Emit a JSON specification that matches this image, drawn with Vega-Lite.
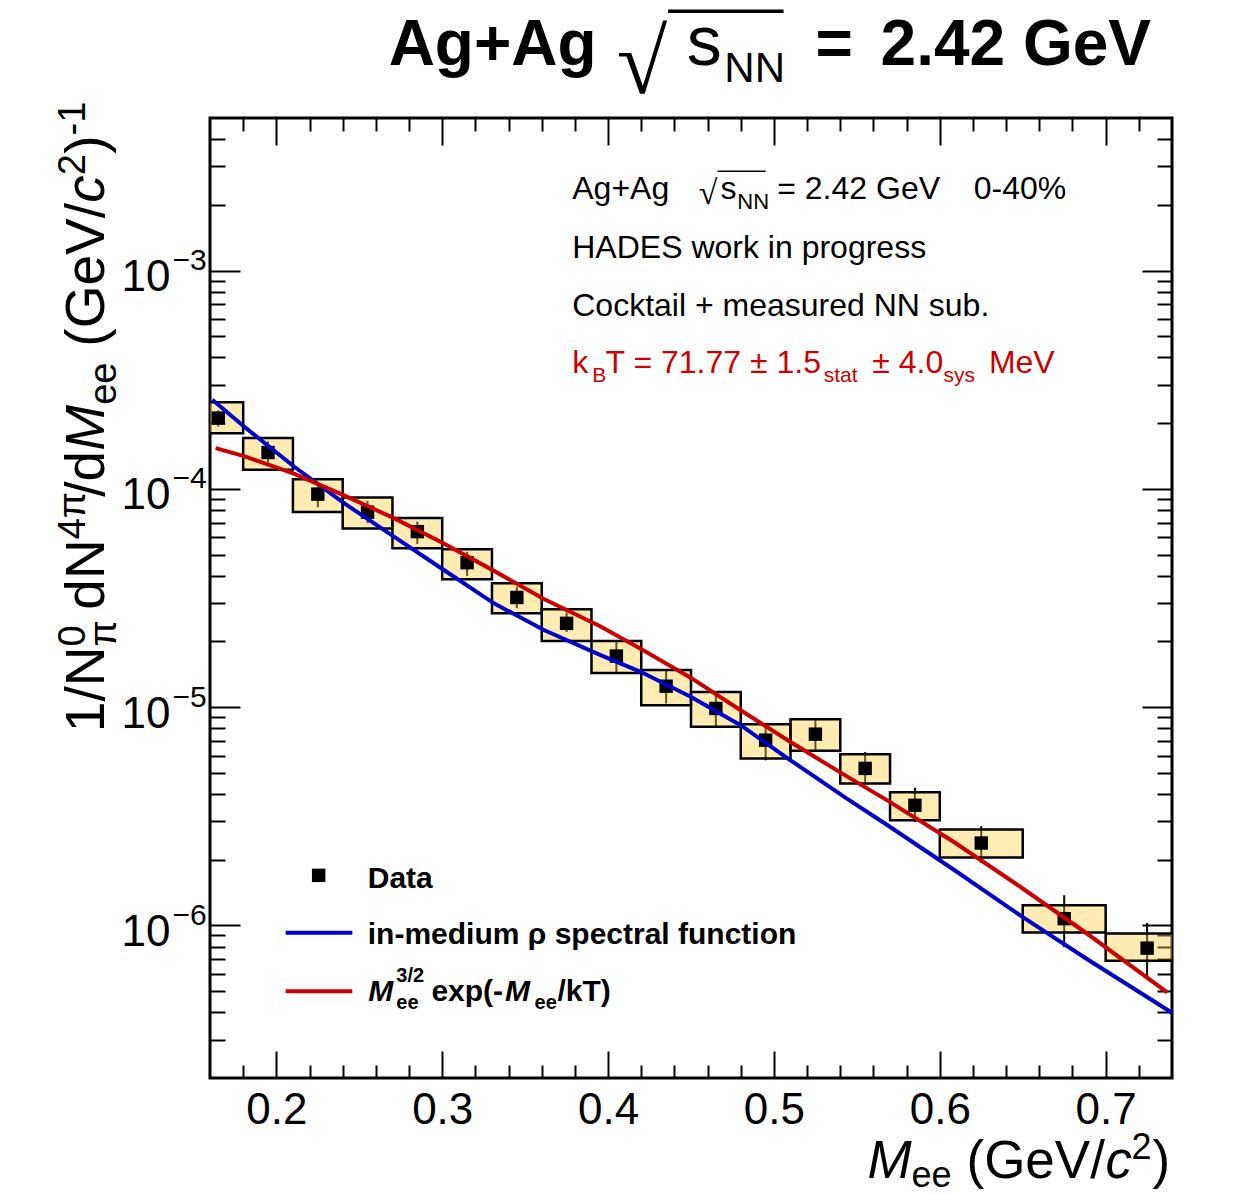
{
 "$schema": "https://vega.github.io/schema/vega-lite/v6.json",
 "width": 962, "height": 960,
 "autosize": {"type": "none"},
 "padding": {"left": 210, "top": 118, "right": 69, "bottom": 116},
 "background": "white",
 "config": {
  "view": {"stroke": "black", "strokeWidth": 3},
  "axis": {"grid": false, "domain": false, "tickColor": "black", "tickWidth": 2, "labelColor": "black", "labelFont": "Liberation Sans", "labelFlush": false, "labelOverlap": false}
 },
 "resolve": {"axis": {"x": "independent", "y": "independent"}},
 "datasets": {
  "pts": [
   {"x":0.165,"y":2.11e-4,"xlo":0.15,"xhi":0.18,"slo":1.80e-4,"shi":2.49e-4,"elo":1.93e-4,"ehi":2.29e-4},
   {"x":0.195,"y":1.467e-4,"xlo":0.18,"xhi":0.21,"slo":1.222e-4,"shi":1.708e-4,"elo":1.32e-4,"ehi":1.65e-4},
   {"x":0.225,"y":9.46e-5,"xlo":0.21,"xhi":0.24,"slo":7.84e-5,"shi":1.107e-4,"elo":8.24e-5,"ehi":1.026e-4},
   {"x":0.255,"y":7.82e-5,"xlo":0.24,"xhi":0.27,"slo":6.58e-5,"shi":9.12e-5,"elo":6.97e-5,"ehi":8.81e-5},
   {"x":0.285,"y":6.37e-5,"xlo":0.27,"xhi":0.30,"slo":5.35e-5,"shi":7.36e-5,"elo":5.6e-5,"ehi":7.08e-5},
   {"x":0.315,"y":4.59e-5,"xlo":0.30,"xhi":0.33,"slo":3.85e-5,"shi":5.29e-5,"elo":3.99e-5,"ehi":5.15e-5},
   {"x":0.345,"y":3.18e-5,"xlo":0.33,"xhi":0.36,"slo":2.69e-5,"shi":3.69e-5,"elo":2.84e-5,"ehi":3.56e-5},
   {"x":0.375,"y":2.42e-5,"xlo":0.36,"xhi":0.39,"slo":2.01e-5,"shi":2.81e-5,"elo":2.21e-5,"ehi":2.71e-5},
   {"x":0.405,"y":1.714e-5,"xlo":0.39,"xhi":0.42,"slo":1.435e-5,"shi":2.01e-5,"elo":1.44e-5,"ehi":2.0e-5},
   {"x":0.435,"y":1.247e-5,"xlo":0.42,"xhi":0.45,"slo":1.021e-5,"shi":1.479e-5,"elo":1.04e-5,"ehi":1.48e-5},
   {"x":0.465,"y":9.86e-6,"xlo":0.45,"xhi":0.48,"slo":8.13e-6,"shi":1.172e-5,"elo":8.2e-6,"ehi":1.17e-5},
   {"x":0.495,"y":7.06e-6,"xlo":0.48,"xhi":0.51,"slo":5.82e-6,"shi":8.35e-6,"elo":5.71e-6,"ehi":8.26e-6},
   {"x":0.525,"y":7.52e-6,"xlo":0.51,"xhi":0.54,"slo":6.31e-6,"shi":8.79e-6,"elo":6.3e-6,"ehi":8.7e-6},
   {"x":0.555,"y":5.24e-6,"xlo":0.54,"xhi":0.57,"slo":4.47e-6,"shi":6.09e-6,"elo":4.39e-6,"ehi":6.23e-6},
   {"x":0.585,"y":3.55e-6,"xlo":0.57,"xhi":0.60,"slo":3.03e-6,"shi":4.07e-6,"elo":2.98e-6,"ehi":4.28e-6},
   {"x":0.625,"y":2.385e-6,"xlo":0.60,"xhi":0.65,"slo":2.05e-6,"shi":2.75e-6,"elo":1.93e-6,"ehi":2.85e-6},
   {"x":0.675,"y":1.074e-6,"xlo":0.65,"xhi":0.70,"slo":9.27e-7,"shi":1.236e-6,"elo":7.96e-7,"ehi":1.375e-6},
   {"x":0.725,"y":7.87e-7,"xlo":0.70,"xhi":0.75,"slo":6.89e-7,"shi":9.19e-7,"elo":5.8e-7,"ehi":1.026e-6}
  ],
  "curves": [
   {"s":"rho","x":0.1614,"y":2.56e-4},
   {"s":"rho","x":0.1805,"y":1.93e-4},
   {"s":"rho","x":0.2106,"y":1.266e-4},
   {"s":"rho","x":0.2408,"y":8.60e-5},
   {"s":"rho","x":0.2709,"y":6.04e-5},
   {"s":"rho","x":0.3010,"y":4.25e-5},
   {"s":"rho","x":0.3312,"y":2.99e-5},
   {"s":"rho","x":0.3613,"y":2.255e-5},
   {"s":"rho","x":0.3955,"y":1.732e-5},
   {"s":"rho","x":0.4196,"y":1.452e-5},
   {"s":"rho","x":0.4498,"y":1.115e-5},
   {"s":"rho","x":0.4799,"y":8.27e-6},
   {"s":"rho","x":0.5100,"y":5.71e-6},
   {"s":"rho","x":0.5442,"y":3.80e-6},
   {"s":"rho","x":0.5683,"y":2.884e-6},
   {"s":"rho","x":0.6085,"y":1.799e-6},
   {"s":"rho","x":0.6487,"y":1.109e-6},
   {"s":"rho","x":0.6889,"y":7.0e-7},
   {"s":"rho","x":0.74,"y":3.98e-7},
   {"s":"th","x":0.1634,"y":1.537e-4},
   {"s":"th","x":0.1805,"y":1.413e-4},
   {"s":"th","x":0.2106,"y":1.175e-4},
   {"s":"th","x":0.2408,"y":9.33e-5},
   {"s":"th","x":0.2709,"y":7.34e-5},
   {"s":"th","x":0.3010,"y":5.62e-5},
   {"s":"th","x":0.3312,"y":4.21e-5},
   {"s":"th","x":0.3613,"y":3.13e-5},
   {"s":"th","x":0.3955,"y":2.34e-5},
   {"s":"th","x":0.4196,"y":1.85e-5},
   {"s":"th","x":0.4498,"y":1.365e-5},
   {"s":"th","x":0.4799,"y":9.68e-6},
   {"s":"th","x":0.5100,"y":6.92e-6},
   {"s":"th","x":0.5402,"y":5.01e-6},
   {"s":"th","x":0.5683,"y":3.74e-6},
   {"s":"th","x":0.6085,"y":2.41e-6},
   {"s":"th","x":0.6487,"y":1.50e-6},
   {"s":"th","x":0.6889,"y":9.16e-7},
   {"s":"th","x":0.7371,"y":4.94e-7},
   {"s":"rho_leg","x":0.2056,"y":9.258e-7},
   {"s":"rho_leg","x":0.2458,"y":9.258e-7},
   {"s":"th_leg","x":0.2056,"y":4.995e-7},
   {"s":"th_leg","x":0.2458,"y":4.995e-7}
  ]
 },
 "layer": [
  {
   "data": {"name": "pts"},
   "mark": {"type": "rule", "color": "black", "strokeWidth": 2},
   "encoding": {
    "x": {"field": "x", "type": "quantitative", "scale": {"type": "linear", "domain": [0.16, 0.74], "zero": false, "nice": false},
          "axis": {"orient": "bottom", "title": null, "ticks": false, "labels": true, "values": [0.2, 0.3, 0.4, 0.5, 0.6, 0.7], "format": ".1f", "labelFontSize": 44, "labelPadding": 10}},
    "y": {"field": "elo", "type": "quantitative", "scale": {"type": "log", "domain": [2e-7, 0.005], "nice": false},
          "axis": {"orient": "left", "title": null, "ticks": false, "values": [1e-6, 1e-5, 1e-4, 1e-3], "labelExpr": "'10'", "labelFontSize": 44, "labelPadding": 40, "labelOffset": 7, "labelAlign": "right", "labelBaseline": "middle"}},
    "y2": {"field": "ehi"}
   }
  },
  {
   "data": {"name": "pts"},
   "mark": {"type": "rect", "fill": "#ffd041", "fillOpacity": 0.4, "stroke": "black", "strokeOpacity": 1, "strokeWidth": 2.5, "clip": true},
   "encoding": {
    "x": {"field": "xlo", "type": "quantitative", "scale": {"type": "linear", "domain": [0.16, 0.74], "zero": false, "nice": false},
          "axis": {"orient": "bottom", "title": null, "labels": false, "values": [0.2, 0.3, 0.4, 0.5, 0.6, 0.7], "tickSize": -27}},
    "x2": {"field": "xhi"},
    "y": {"field": "slo", "type": "quantitative", "scale": {"type": "log", "domain": [2e-7, 0.005], "nice": false},
          "axis": {"orient": "left", "title": null, "ticks": false, "values": [1e-6, 1e-5, 1e-4, 1e-3], "labelExpr": "'\u2212' + format(-log(datum.value)/LN10, '.0f')", "labelFontSize": 30, "labelPadding": 38, "labelOffset": -10, "labelAlign": "left", "labelBaseline": "middle"}},
    "y2": {"field": "shi"}
   }
  },
  {
   "data": {"name": "pts"},
   "mark": {"type": "point", "shape": "square", "filled": true, "size": 180, "color": "black", "opacity": 1},
   "encoding": {
    "x": {"field": "x", "type": "quantitative", "scale": {"type": "linear", "domain": [0.16, 0.74], "zero": false, "nice": false},
          "axis": {"orient": "bottom", "title": null, "labels": false, "values": [0.18,0.22,0.24,0.26,0.28,0.32,0.34,0.36,0.38,0.42,0.44,0.46,0.48,0.52,0.54,0.56,0.58,0.62,0.64,0.66,0.68,0.72], "tickSize": -13}},
    "y": {"field": "y", "type": "quantitative", "scale": {"type": "log", "domain": [2e-7, 0.005], "nice": false},
          "axis": {"orient": "left", "title": null, "labels": false, "values": [1e-6, 1e-5, 1e-4, 1e-3], "tickSize": -30}}
   }
  },
  {
   "data": {"name": "curves"},
   "mark": {"type": "line", "strokeWidth": 4},
   "encoding": {
    "x": {"field": "x", "type": "quantitative", "scale": {"type": "linear", "domain": [0.16, 0.74], "zero": false, "nice": false},
          "axis": {"orient": "top", "title": null, "labels": false, "values": [0.2, 0.3, 0.4, 0.5, 0.6, 0.7], "tickSize": -27}},
    "y": {"field": "y", "type": "quantitative", "scale": {"type": "log", "domain": [2e-7, 0.005], "nice": false},
          "axis": {"orient": "left", "title": null, "labels": false, "values": [3e-7,4e-7,5e-7,6e-7,7e-7,8e-7,9e-7,2e-6,3e-6,4e-6,5e-6,6e-6,7e-6,8e-6,9e-6,2e-5,3e-5,4e-5,5e-5,6e-5,7e-5,8e-5,9e-5,0.0002,0.0003,0.0004,0.0005,0.0006,0.0007,0.0008,0.0009,0.002,0.003,0.004], "tickSize": -15}},
    "color": {"field": "s", "type": "nominal", "scale": {"domain": ["rho", "th", "rho_leg", "th_leg"], "range": ["#0000cc", "#cc0000", "#0000cc", "#cc0000"]}, "legend": null}
   }
  },
  {
   "data": {"values": [{"x": 0.2255, "y": 1.696e-6}]},
   "mark": {"type": "point", "shape": "square", "filled": true, "size": 180, "color": "black", "opacity": 1},
   "encoding": {
    "x": {"field": "x", "type": "quantitative", "scale": {"type": "linear", "domain": [0.16, 0.74], "zero": false, "nice": false},
          "axis": {"orient": "top", "title": null, "labels": false, "values": [0.18,0.22,0.24,0.26,0.28,0.32,0.34,0.36,0.38,0.42,0.44,0.46,0.48,0.52,0.54,0.56,0.58,0.62,0.64,0.66,0.68,0.72], "tickSize": -13}},
    "y": {"field": "y", "type": "quantitative", "scale": {"type": "log", "domain": [2e-7, 0.005], "nice": false},
          "axis": {"orient": "right", "title": null, "labels": false, "values": [1e-6, 1e-5, 1e-4, 1e-3], "tickSize": -30}}
   }
  },
  {
   "data": {"values": [
    {"x": 0.3784, "y": 2.117e-3, "t": "Ag+Ag"},
    {"x": 0.4678, "y": 2.117e-3, "t": "s"},
    {"x": 0.5020, "y": 2.117e-3, "t": "= 2.42 GeV"},
    {"x": 0.6205, "y": 2.117e-3, "t": "0-40%"},
    {"x": 0.3784, "y": 1.144e-3, "t": "HADES work in progress"},
    {"x": 0.3784, "y": 6.217e-4, "t": "Cocktail + measured NN sub."}
   ]},
   "mark": {"type": "text", "font": "Liberation Sans", "fontSize": 32, "align": "left", "baseline": "alphabetic", "color": "black"},
   "encoding": {
    "x": {"field": "x", "type": "quantitative", "scale": {"type": "linear", "domain": [0.16, 0.74], "zero": false, "nice": false}, "axis": null},
    "y": {"field": "y", "type": "quantitative", "scale": {"type": "log", "domain": [2e-7, 0.005], "nice": false},
          "axis": {"orient": "right", "title": null, "labels": false, "values": [3e-7,4e-7,5e-7,6e-7,7e-7,8e-7,9e-7,2e-6,3e-6,4e-6,5e-6,6e-6,7e-6,8e-6,9e-6,2e-5,3e-5,4e-5,5e-5,6e-5,7e-5,8e-5,9e-5,0.0002,0.0003,0.0004,0.0005,0.0006,0.0007,0.0008,0.0009,0.002,0.003,0.004], "tickSize": -15}},
    "text": {"field": "t"}
   }
  },
  {
   "data": {"values": [{"x": 0.4546, "y": 2.008e-3, "t": "\u221a"}]},
   "mark": {"type": "text", "font": "DejaVu Sans", "fontWeight": 200, "fontSize": 34, "align": "left", "baseline": "alphabetic", "color": "black"},
   "encoding": {
    "x": {"field": "x", "type": "quantitative", "scale": {"type": "linear", "domain": [0.16, 0.74], "zero": false, "nice": false}, "axis": null},
    "y": {"field": "y", "type": "quantitative", "scale": {"type": "log", "domain": [2e-7, 0.005], "nice": false}, "axis": null},
    "text": {"field": "t"}
   }
  },
  {
   "data": {"values": [{"x": 0.4779, "y": 1.919e-3, "t": "NN"}]},
   "mark": {"type": "text", "font": "Liberation Sans", "fontSize": 22, "align": "left", "baseline": "alphabetic", "color": "black"},
   "encoding": {
    "x": {"field": "x", "type": "quantitative", "scale": {"type": "linear", "domain": [0.16, 0.74], "zero": false, "nice": false}, "axis": null},
    "y": {"field": "y", "type": "quantitative", "scale": {"type": "log", "domain": [2e-7, 0.005], "nice": false}, "axis": null},
    "text": {"field": "t"}
   }
  },
  {
   "data": {"values": [
    {"x": 0.3784, "y": 3.394e-4, "t": "k"},
    {"x": 0.3985, "y": 3.394e-4, "t": "T = 71.77 \u00b1 1.5"},
    {"x": 0.5593, "y": 3.394e-4, "t": "\u00b1 4.0"},
    {"x": 0.6296, "y": 3.394e-4, "t": "MeV"}
   ]},
   "mark": {"type": "text", "font": "Liberation Sans", "fontSize": 32, "align": "left", "baseline": "alphabetic", "color": "#cc0000"},
   "encoding": {
    "x": {"field": "x", "type": "quantitative", "scale": {"type": "linear", "domain": [0.16, 0.74], "zero": false, "nice": false}, "axis": null},
    "y": {"field": "y", "type": "quantitative", "scale": {"type": "log", "domain": [2e-7, 0.005], "nice": false}, "axis": null},
    "text": {"field": "t"}
   }
  },
  {
   "data": {"values": [
    {"x": 0.3905, "y": 3.096e-4, "t": "B"},
    {"x": 0.5300, "y": 3.096e-4, "t": "stat"},
    {"x": 0.6022, "y": 3.096e-4, "t": "sys"}
   ]},
   "mark": {"type": "text", "font": "Liberation Sans", "fontSize": 21, "align": "left", "baseline": "alphabetic", "color": "#cc0000"},
   "encoding": {
    "x": {"field": "x", "type": "quantitative", "scale": {"type": "linear", "domain": [0.16, 0.74], "zero": false, "nice": false}, "axis": null},
    "y": {"field": "y", "type": "quantitative", "scale": {"type": "log", "domain": [2e-7, 0.005], "nice": false}, "axis": null},
    "text": {"field": "t"}
   }
  },
  {
   "data": {"values": [
    {"x": 0.2551, "y": 1.478e-6, "t": "Data"},
    {"x": 0.2551, "y": 8.244e-7, "t": "in-medium \u03c1 spectral function"},
    {"x": 0.2935, "y": 4.529e-7, "t": "exp(-"},
    {"x": 0.3695, "y": 4.529e-7, "t": "/kT)"}
   ]},
   "mark": {"type": "text", "font": "Liberation Sans", "fontSize": 30, "fontWeight": "bold", "align": "left", "baseline": "alphabetic", "color": "black"},
   "encoding": {
    "x": {"field": "x", "type": "quantitative", "scale": {"type": "linear", "domain": [0.16, 0.74], "zero": false, "nice": false}, "axis": null},
    "y": {"field": "y", "type": "quantitative", "scale": {"type": "log", "domain": [2e-7, 0.005], "nice": false}, "axis": null},
    "text": {"field": "t"}
   }
  },
  {
   "data": {"values": [
    {"x": 0.2554, "y": 4.529e-7, "t": "M"},
    {"x": 0.3378, "y": 4.529e-7, "t": "M"}
   ]},
   "mark": {"type": "text", "font": "Liberation Sans", "fontSize": 30, "fontWeight": "bold", "fontStyle": "italic", "align": "left", "baseline": "alphabetic", "color": "black"},
   "encoding": {
    "x": {"field": "x", "type": "quantitative", "scale": {"type": "linear", "domain": [0.16, 0.74], "zero": false, "nice": false}, "axis": null},
    "y": {"field": "y", "type": "quantitative", "scale": {"type": "log", "domain": [2e-7, 0.005], "nice": false}, "axis": null},
    "text": {"field": "t"}
   }
  },
  {
   "data": {"values": [
    {"x": 0.2723, "y": 5.477e-7, "t": "3/2"},
    {"x": 0.2723, "y": 4.148e-7, "t": "ee"},
    {"x": 0.3557, "y": 4.148e-7, "t": "ee"}
   ]},
   "mark": {"type": "text", "font": "Liberation Sans", "fontSize": 20, "fontWeight": "bold", "align": "left", "baseline": "alphabetic", "color": "black"},
   "encoding": {
    "x": {"field": "x", "type": "quantitative", "scale": {"type": "linear", "domain": [0.16, 0.74], "zero": false, "nice": false}, "axis": null},
    "y": {"field": "y", "type": "quantitative", "scale": {"type": "log", "domain": [2e-7, 0.005], "nice": false}, "axis": null},
    "text": {"field": "t"}
   }
  },
  {
   "data": {"values": [
    {"x": 0.6161, "y": 6.982e-8, "t": "(GeV/"},
    {"x": 0.7282, "y": 6.982e-8, "t": ")"}
   ]},
   "mark": {"type": "text", "font": "Liberation Sans", "fontSize": 53, "align": "left", "baseline": "alphabetic", "color": "black"},
   "encoding": {
    "x": {"field": "x", "type": "quantitative", "scale": {"type": "linear", "domain": [0.16, 0.74], "zero": false, "nice": false}, "axis": null},
    "y": {"field": "y", "type": "quantitative", "scale": {"type": "log", "domain": [2e-7, 0.005], "nice": false}, "axis": null},
    "text": {"field": "t"}
   }
  },
  {
   "data": {"values": [
    {"x": 0.5564, "y": 6.982e-8, "t": "M"},
    {"x": 0.6999, "y": 6.982e-8, "t": "c"}
   ]},
   "mark": {"type": "text", "font": "Liberation Sans", "fontSize": 53, "fontStyle": "italic", "align": "left", "baseline": "alphabetic", "color": "black"},
   "encoding": {
    "x": {"field": "x", "type": "quantitative", "scale": {"type": "linear", "domain": [0.16, 0.74], "zero": false, "nice": false}, "axis": null},
    "y": {"field": "y", "type": "quantitative", "scale": {"type": "log", "domain": [2e-7, 0.005], "nice": false}, "axis": null},
    "text": {"field": "t"}
   }
  },
  {
   "data": {"values": [
    {"x": 0.5830, "y": 6.352e-8, "t": "ee"},
    {"x": 0.7156, "y": 8.535e-8, "t": "2"}
   ]},
   "mark": {"type": "text", "font": "Liberation Sans", "fontSize": 36, "align": "left", "baseline": "alphabetic", "color": "black"},
   "encoding": {
    "x": {"field": "x", "type": "quantitative", "scale": {"type": "linear", "domain": [0.16, 0.74], "zero": false, "nice": false}, "axis": null},
    "y": {"field": "y", "type": "quantitative", "scale": {"type": "log", "domain": [2e-7, 0.005], "nice": false}, "axis": null},
    "text": {"field": "t"}
   }
  },
  {
   "data": {"values": [
    {"x": 0.0959, "y": 7.680e-6, "t": "1/N"},
    {"x": 0.0959, "y": 2.795e-5, "t": "dN"},
    {"x": 0.0959, "y": 9.209e-5, "t": "/d"},
    {"x": 0.0959, "y": 4.481e-4, "t": "(GeV/"},
    {"x": 0.0959, "y": 3.427e-3, "t": ")"}
   ]},
   "mark": {"type": "text", "font": "Liberation Sans", "fontSize": 55, "angle": 270, "align": "left", "baseline": "alphabetic", "color": "black"},
   "encoding": {
    "x": {"field": "x", "type": "quantitative", "scale": {"type": "linear", "domain": [0.16, 0.74], "zero": false, "nice": false}, "axis": null},
    "y": {"field": "y", "type": "quantitative", "scale": {"type": "log", "domain": [2e-7, 0.005], "nice": false}, "axis": null},
    "text": {"field": "t"}
   }
  },
  {
   "data": {"values": [
    {"x": 0.0959, "y": 1.496e-4, "t": "M"},
    {"x": 0.0959, "y": 2.045e-3, "t": "c"}
   ]},
   "mark": {"type": "text", "font": "Liberation Sans", "fontSize": 55, "fontStyle": "italic", "angle": 270, "align": "left", "baseline": "alphabetic", "color": "black"},
   "encoding": {
    "x": {"field": "x", "type": "quantitative", "scale": {"type": "linear", "domain": [0.16, 0.74], "zero": false, "nice": false}, "axis": null},
    "y": {"field": "y", "type": "quantitative", "scale": {"type": "log", "domain": [2e-7, 0.005], "nice": false}, "axis": null},
    "text": {"field": "t"}
   }
  },
  {
   "data": {"values": [
    {"x": 0.1032, "y": 1.897e-5, "t": "\u03c0"},
    {"x": 0.1032, "y": 2.426e-4, "t": "ee"},
    {"x": 0.0845, "y": 1.897e-5, "t": "0"},
    {"x": 0.0845, "y": 5.871e-5, "t": "4\u03c0"},
    {"x": 0.0845, "y": 2.733e-3, "t": "2"},
    {"x": 0.0845, "y": 4.157e-3, "t": "-1"}
   ]},
   "mark": {"type": "text", "font": "Liberation Sans", "fontSize": 38, "angle": 270, "align": "left", "baseline": "alphabetic", "color": "black"},
   "encoding": {
    "x": {"field": "x", "type": "quantitative", "scale": {"type": "linear", "domain": [0.16, 0.74], "zero": false, "nice": false}, "axis": null},
    "y": {"field": "y", "type": "quantitative", "scale": {"type": "log", "domain": [2e-7, 0.005], "nice": false}, "axis": null},
    "text": {"field": "t"}
   }
  },
  {
   "data": {"values": [
    {"x": 0.2677, "y": 8.716e-3, "t": "Ag+Ag"},
    {"x": 0.5250, "y": 8.716e-3, "t": "="},
    {"x": 0.5643, "y": 8.716e-3, "t": "2.42 GeV"}
   ]},
   "mark": {"type": "text", "font": "Liberation Sans", "fontSize": 64, "fontWeight": "bold", "align": "left", "baseline": "alphabetic", "color": "black"},
   "encoding": {
    "x": {"field": "x", "type": "quantitative", "scale": {"type": "linear", "domain": [0.16, 0.74], "zero": false, "nice": false}, "axis": null},
    "y": {"field": "y", "type": "quantitative", "scale": {"type": "log", "domain": [2e-7, 0.005], "nice": false}, "axis": null},
    "text": {"field": "t"}
   }
  },
  {
   "data": {"values": [{"x": 0.4474, "y": 8.716e-3, "t": "s"}]},
   "mark": {"type": "text", "font": "Liberation Sans", "fontSize": 70, "align": "left", "baseline": "alphabetic", "color": "black"},
   "encoding": {
    "x": {"field": "x", "type": "quantitative", "scale": {"type": "linear", "domain": [0.16, 0.74], "zero": false, "nice": false}, "axis": null},
    "y": {"field": "y", "type": "quantitative", "scale": {"type": "log", "domain": [2e-7, 0.005], "nice": false}, "axis": null},
    "text": {"field": "t"}
   }
  },
  {
   "data": {"values": [{"x": 0.4701, "y": 7.286e-3, "t": "NN"}]},
   "mark": {"type": "text", "font": "Liberation Sans", "fontSize": 42, "align": "left", "baseline": "alphabetic", "color": "black"},
   "encoding": {
    "x": {"field": "x", "type": "quantitative", "scale": {"type": "linear", "domain": [0.16, 0.74], "zero": false, "nice": false}, "axis": null},
    "y": {"field": "y", "type": "quantitative", "scale": {"type": "log", "domain": [2e-7, 0.005], "nice": false}, "axis": null},
    "text": {"field": "t"}
   }
  },
  {
   "data": {"values": [{"x": 0.4052, "y": 6.484e-3, "t": "\u221a"}]},
   "mark": {"type": "text", "font": "DejaVu Sans", "fontWeight": 200, "fontSize": 92, "align": "left", "baseline": "alphabetic", "color": "black"},
   "encoding": {
    "x": {"field": "x", "type": "quantitative", "scale": {"type": "linear", "domain": [0.16, 0.74], "zero": false, "nice": false}, "axis": null},
    "y": {"field": "y", "type": "quantitative", "scale": {"type": "log", "domain": [2e-7, 0.005], "nice": false}, "axis": null},
    "text": {"field": "t"}
   }
  },
  {
   "data": {"values": [{"x": 0.4362, "x2": 0.5058, "y": 1.542e-2}]},
   "mark": {"type": "rule", "color": "black", "strokeWidth": 3.5},
   "encoding": {
    "x": {"field": "x", "type": "quantitative", "scale": {"type": "linear", "domain": [0.16, 0.74], "zero": false, "nice": false}, "axis": null},
    "x2": {"field": "x2"},
    "y": {"field": "y", "type": "quantitative", "scale": {"type": "log", "domain": [2e-7, 0.005], "nice": false}, "axis": null}
   }
  },
  {
   "data": {"values": [{"x": 0.4660, "x2": 0.4950, "y": 2.854e-3}]},
   "mark": {"type": "rule", "color": "black", "strokeWidth": 1.5},
   "encoding": {
    "x": {"field": "x", "type": "quantitative", "scale": {"type": "linear", "domain": [0.16, 0.74], "zero": false, "nice": false}, "axis": null},
    "x2": {"field": "x2"},
    "y": {"field": "y", "type": "quantitative", "scale": {"type": "log", "domain": [2e-7, 0.005], "nice": false}, "axis": null}
   }
  }
 ]
}
